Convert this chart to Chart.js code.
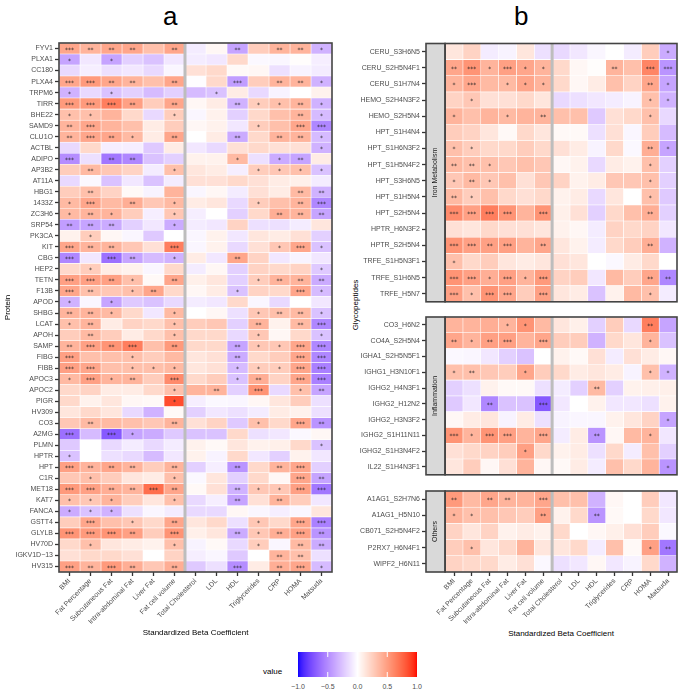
<!DOCTYPE html>
<html>
<head>
<meta charset="utf-8">
<script src="https://cdn.jsdelivr.net/npm/chart.js@4.4.1/dist/chart.umd.min.js"></script>
<style>
  body { margin: 0; width: 685px; height: 695px; position: relative; background: #fff; overflow: hidden;
         font-family: "Liberation Sans", Arial, sans-serif; }
  canvas { position: absolute; }
  .txt { position: absolute; white-space: nowrap; color: #000; }
</style>
</head>
<body>
<div class="txt" style="left:163px;top:1px;font-size:26px;">a</div>
<div class="txt" style="left:514px;top:1px;font-size:26px;">b</div>
<div class="txt" style="left:355px;top:305px;font-size:8px;transform:translate(-50%,-50%) rotate(-90deg);">Glycopeptides</div>
<div class="txt" style="left:561px;top:633px;font-size:8px;transform:translate(-50%,-50%);">Standardized Beta Coefficient</div>

<canvas id="protein" width="340" height="642" style="left:0;top:0;width:340px;height:642px"></canvas>
<canvas id="iron" width="345" height="308" style="left:340px;top:0;width:345px;height:308px"></canvas>
<canvas id="inflam" width="345" height="171" style="left:340px;top:310px;width:345px;height:171px"></canvas>
<canvas id="others" width="345" height="158" style="left:340px;top:484px;width:345px;height:158px"></canvas>

<div class="txt" style="left:263px;top:667px;font-size:8px;">value</div>
<canvas id="bar" width="119" height="25" style="left:298px;top:652px;width:119px;height:25px"></canvas>
<div id="barTicks"></div>

<script>
// Standardized beta coefficients; stars = significance level (0-3)
const measures = ['BMI', 'Fat Percentage', 'Subcutaneous Fat', 'Intra-abdominal Fat', 'Liver Fat', 'Fat cell volume',
  'Total Cholesterol', 'LDL', 'HDL', 'Triglycerides', 'CRP', 'HOMA', 'Matsuda'];

const proteins = ['FYV1', 'PLXA1', 'CC180', 'PLXA4', 'TRPM6', 'TIRR', 'BHE22', 'SAMD9', 'CLU1O', 'ACTBL', 'ADIPO', 'AP3B2',
  'AT11A', 'HBG1', '1433Z', 'ZC3H6', 'SRP54', 'PK3CA', 'KIT', 'CBG', 'HEP2', 'TETN', 'F13B', 'APOD', 'SHBG', 'LCAT',
  'APOH', 'SAMP', 'FIBG', 'FIBB', 'APOC3', 'APOC2', 'PIGR', 'HV309', 'CO3', 'A2MG', 'PLMN', 'HPTR', 'HPT', 'C1R',
  'MET18', 'KAT7', 'FANCA', 'GSTT4', 'GLYLB', 'HV70D', 'IGKV1D\u221213', 'HV315'];

const proteinBeta = [
  [0.46, 0.39, 0.46, 0.46, 0.33, 0.46, -0.08, 0.04, -0.39, 0.26, 0.39, 0.39, -0.33],
  [-0.39, -0.1, -0.39, -0.2, -0.26, -0.1, -0.08, -0.1, 0.2, -0.03, -0.04, 0.01, -0.07],
  [-0.16, -0.07, -0.13, -0.1, -0.16, -0.04, 0.16, 0.2, 0.03, 0.04, -0.13, -0.05, -0.08],
  [0.46, 0.52, 0.46, 0.39, 0.33, 0.46, -0.01, 0.2, -0.42, 0.26, 0.39, 0.39, -0.33],
  [-0.33, -0.16, -0.26, -0.2, -0.29, -0.2, -0.29, -0.26, 0.1, -0.16, -0.05, 0, 0.07],
  [0.52, 0.52, 0.65, 0.49, 0.26, 0.46, 0.04, 0.1, -0.33, 0.26, 0.33, 0.39, -0.33],
  [0.33, 0.33, 0.39, 0.2, -0.16, 0.26, -0.04, 0.07, -0.2, 0.2, 0.33, 0.39, -0.29],
  [0.39, 0.46, 0.39, 0.33, 0.1, 0.26, 0.04, 0.07, -0.1, 0.26, 0.33, 0.46, -0.52],
  [0.39, 0.46, 0.46, 0.36, 0.1, 0.46, 0, 0.1, -0.36, 0.2, 0.39, 0.39, -0.29],
  [-0.16, 0.2, -0.07, -0.07, -0.23, 0.1, -0.1, -0.16, 0.16, 0.2, 0.16, 0.16, -0.33],
  [-0.49, -0.13, -0.59, -0.52, -0.26, -0.2, 0.07, 0.07, 0.36, -0.13, -0.36, -0.39, 0.1],
  [0.26, 0.36, 0.29, 0.23, -0.08, 0.33, 0.13, 0.1, -0.07, 0.26, 0.29, 0.33, -0.26],
  [-0.16, -0.03, -0.26, -0.1, -0.26, -0.08, 0.16, 0.16, 0.2, 0.16, 0.1, 0.08, -0.08],
  [0.26, 0.33, 0.23, 0.03, -0.05, 0.39, -0.04, 0.04, -0.08, 0.16, 0.1, 0.36, -0.33],
  [0.36, 0.46, 0.36, 0.42, 0.29, 0.36, 0.1, 0.13, -0.16, 0.26, 0.33, 0.39, -0.52],
  [0.36, 0.39, 0.39, 0.26, -0.07, 0.29, -0.07, 0, -0.2, 0.2, 0.42, 0.39, -0.39],
  [-0.42, -0.39, -0.36, -0.2, -0.1, -0.36, -0.08, -0.1, 0.23, -0.13, -0.13, -0.08, 0.13],
  [0.07, 0.26, 0.04, -0.04, -0.23, 0, -0.04, 0.07, -0.1, 0.13, 0.1, 0.16, -0.2],
  [0.46, 0.39, 0.39, 0.29, 0.16, 0.65, -0.04, 0.07, -0.16, 0.16, 0.29, 0.46, -0.26],
  [-0.52, -0.1, -0.62, -0.39, -0.29, -0.33, 0.1, -0.1, 0.46, 0.23, -0.1, -0.05, -0.1],
  [0.2, 0.26, 0.1, 0.07, -0.04, 0.2, -0.08, 0.04, -0.2, 0.23, 0.2, 0.23, -0.23],
  [0.49, 0.49, 0.49, 0.33, 0.03, 0.46, 0.08, 0.13, -0.2, 0.26, 0.39, 0.39, -0.36],
  [0.46, 0.33, 0.29, 0.33, 0.46, 0.2, 0.04, 0.1, -0.26, 0.23, 0.2, 0.46, -0.29],
  [-0.33, -0.04, -0.39, -0.23, -0.26, -0.16, -0.08, -0.1, 0.2, -0.04, -0.16, 0, -0.1],
  [0.39, 0.39, 0.36, 0.2, -0.1, 0.36, 0, 0.04, -0.13, 0.29, 0.33, 0.36, -0.26],
  [0.33, 0.39, 0.1, 0.23, 0.2, 0.33, 0.26, 0.29, -0.2, 0.39, 0.07, 0.36, -0.52],
  [0.26, 0.36, 0.26, 0.1, 0.2, 0.33, 0.2, 0.2, -0.16, 0.29, 0.04, 0.2, -0.26],
  [0.39, 0.49, 0.55, 0.65, 0.33, 0.52, 0.2, 0.2, -0.39, 0.29, 0.29, 0.46, -0.52],
  [0.49, 0.33, 0.33, 0.33, 0.26, 0.36, 0.13, 0.16, -0.36, 0.2, 0.26, 0.46, -0.52],
  [0.49, 0.46, 0.33, 0.33, 0.33, 0.36, 0.13, 0.16, -0.29, 0.26, 0.26, 0.46, -0.55],
  [0.36, 0.49, 0.39, 0.39, 0.26, 0.59, 0.2, 0.26, -0.26, 0.42, 0.23, 0.46, -0.55],
  [0.2, 0.23, 0.1, 0.1, 0.2, 0.33, 0.39, 0.39, -0.2, 0.55, -0.16, 0.33, -0.39],
  [0.2, 0.07, 0.13, 0.04, 0.03, 0.85, -0.07, -0.03, -0.04, 0.04, 0.13, 0.26, -0.13],
  [0.13, 0.2, 0.13, -0.16, -0.33, 0.03, -0.2, -0.1, -0.13, -0.08, 0.1, 0.07, -0.13],
  [0.29, 0.36, 0.36, 0.33, 0.29, 0.39, 0.16, 0.23, -0.23, 0.33, 0.2, 0.46, -0.46],
  [-0.62, -0.29, -0.72, -0.39, -0.36, -0.23, -0.26, -0.26, 0.2, -0.13, -0.1, -0.03, 0.04],
  [-0.23, 0, -0.16, -0.08, -0.16, -0.08, 0.07, 0.03, 0.13, 0.07, 0.08, 0.2, -0.26],
  [-0.26, 0, -0.13, -0.16, -0.29, -0.1, 0.07, -0.05, 0.2, -0.1, -0.2, 0.07, -0.1],
  [0.49, 0.39, 0.46, 0.39, 0.26, 0.39, -0.2, -0.07, -0.46, 0.2, 0.39, 0.46, -0.2],
  [0.29, 0.33, 0.26, 0.13, 0.1, 0.33, -0.03, 0.13, -0.2, 0.2, 0.04, 0.46, -0.39],
  [0.52, 0.49, 0.42, 0.39, 0.72, 0.46, 0.03, 0.16, -0.33, 0.29, 0.29, 0.49, -0.59],
  [0.33, 0.29, 0.39, 0.26, 0.13, 0.33, -0.16, -0.07, -0.39, 0.16, 0.39, 0.26, -0.1],
  [-0.36, -0.26, -0.33, -0.13, -0.04, -0.08, -0.16, -0.16, 0.04, -0.04, -0.07, -0.04, 0.13],
  [0.26, 0.46, 0.33, 0.29, 0.2, 0.46, 0.13, 0.2, -0.13, 0.29, 0.2, 0.46, -0.55],
  [0.55, 0.52, 0.55, 0.49, 0.26, 0.55, 0.08, 0.13, -0.36, 0.29, 0.42, 0.49, -0.46],
  [0.2, 0.33, 0.13, 0.1, 0.07, 0.33, -0.05, 0.03, -0.16, 0.26, -0.04, 0.36, -0.36],
  [0.16, 0.2, 0.2, 0.16, 0, 0.23, -0.07, -0.04, -0.23, 0, 0.39, 0.33, -0.13],
  [0.49, 0.39, 0.52, 0.42, 0.29, 0.42, -0.23, -0.13, -0.49, 0.1, 0.42, 0.46, -0.29]
];

const proteinStars = ['3222020020221', '1010000000000', '0000000000000', '3322020030221', '1010000100000',
  '3332020021121', '1100010000021', '2300000001033', '2321020020221', '0000000000001', '3022000010120',
  '0200010001111', '0000000000000', '0200000000022', '1302010001023', '1210010000222', '2220010000000',
  '0100000000000', '3220030000131', '3032010020000', '0100000000001', '3321020001222', '3201200010031',
  '1010000000000', '2210010001221', '1200010002023', '0200010001001', '2323020021133', '3001000020033',
  '3301110011133', '1312030012033', '0000010203012', '0000010000000', '0000000000000', '0200020001032',
  '3031000000000', '0000000000001', '1000000000000', '3222020020230', '0100010000032', '3322320021133',
  '1110010020200', '1110000000000', '0301020001033', '3332030021232', '0100010001022', '0000000000220',
  '3232020030231'];

const ironRows = ['CERU_S3H6N5', 'CERU_S2H5N4F1', 'CERU_S1H7N4', 'HEMO_S2H4N3F2', 'HEMO_S2H5N4', 'HPT_S1H4N4',
  'HPT_S1H6N3F2', 'HPT_S1H5N4F2', 'HPT_S3H6N5', 'HPT_S1H5N4', 'HPT_S2H5N4', 'HPTR_H6N3F2', 'HPTR_S2H5N4',
  'TRFE_S1H5N3F1', 'TRFE_S1H6N5', 'TRFE_H5N7'];
const ironBeta = [
  [0.13, 0.23, -0.08, -0.05, 0.13, -0.13, -0.16, -0.1, -0.04, 0, -0.08, 0.26, -0.36],
  [0.46, 0.55, 0.39, 0.49, 0.46, 0.39, 0.2, 0.04, 0.01, 0.39, 0.33, 0.62, -0.46],
  [0.39, 0.46, 0.36, 0.36, 0.46, 0.39, 0.2, 0.04, 0.1, 0.33, 0.23, 0.46, -0.39],
  [0.23, 0.29, 0.16, 0.16, 0.2, 0.13, -0.16, -0.13, -0.1, -0.08, -0.05, 0.33, -0.33],
  [0.39, 0.33, 0.39, 0.36, 0.39, 0.39, 0.33, 0.33, -0.23, 0.16, 0.2, 0.33, -0.16],
  [0.26, 0.23, 0.13, 0.03, 0.2, 0.13, 0.03, 0.03, -0.13, 0.16, -0.04, 0.26, -0.29],
  [0.33, 0.26, 0.2, 0.2, 0.26, 0.2, 0.16, 0.1, -0.05, 0.2, -0.03, 0.42, -0.39],
  [0.36, 0.33, 0.33, 0.29, 0.33, 0.29, 0.04, 0.07, -0.16, 0.1, 0.07, 0.33, -0.2],
  [0.29, 0.36, 0.29, 0.33, 0.16, 0.29, 0.23, 0.07, 0.1, 0.29, 0.29, 0.33, -0.2],
  [0.36, 0.26, 0.33, 0.2, 0.16, 0.2, 0.07, 0.1, -0.16, 0.13, 0, 0.33, -0.23],
  [0.59, 0.49, 0.65, 0.55, 0.39, 0.55, 0.08, 0.16, -0.2, 0.2, 0.33, 0.42, -0.2],
  [0.16, 0.13, 0.2, 0.16, 0.16, 0.13, 0.07, 0.04, -0.08, 0.23, 0.2, 0.23, -0.1],
  [0.55, 0.49, 0.49, 0.49, 0.39, 0.46, 0.13, 0.07, -0.08, 0.2, 0.26, 0.42, -0.33],
  [0.33, 0.2, 0.26, 0.13, 0.1, 0.13, 0.16, 0.13, 0, -0.03, 0.1, 0.2, 0],
  [0.55, 0.49, 0.42, 0.49, 0.39, 0.52, 0.23, 0.26, -0.1, 0.36, 0.26, 0.46, -0.52],
  [0.49, 0.33, 0.55, 0.46, 0.26, 0.49, 0.13, 0.1, -0.26, 0.07, 0.36, 0.33, -0.08]
];
const ironStars = ['0000000000001', '2313110002033', '1301110000021', '0100000000011', '1001020000010',
  '0000000000000', '1100000000021', '2210000000010', '1210000000010', '2100000000010', '3333030000020',
  '0000000000000', '3323020000020', '1000000000000', '3313130000022', '3133030000010'];

const inflamRows = ['CO3_H6N2', 'CO4A_S2H5N4', 'IGHA1_S2H5N5F1', 'IGHG1_H3N10F1', 'IGHG2_H4N3F1', 'IGHG2_H12N2',
  'IGHG2_H3N3F2', 'IGHG2_S1H11N11', 'IGHG2_S1H3N4F2', 'IL22_S1H4N3F1'];
const inflamBeta = [
  [0.39, 0.39, 0.42, 0.39, 0.55, 0.36, 0.13, 0.08, -0.2, 0.26, -0.16, 0.65, -0.39],
  [0.46, 0.39, 0.49, 0.49, 0.39, 0.46, 0.26, 0.26, -0.33, 0.2, 0.13, 0.39, -0.26],
  [-0.03, -0.04, -0.1, -0.2, -0.26, 0, 0.07, 0.03, 0.16, -0.08, 0.16, 0.1, 0.04],
  [0.33, 0.33, 0.29, 0.26, 0.46, 0.26, 0.2, 0.1, 0.13, 0.1, -0.05, 0.33, -0.33],
  [-0.2, -0.13, 0.07, 0.03, 0.03, -0.13, -0.08, -0.2, 0.36, -0.2, 0.07, 0.08, 0.08],
  [-0.23, -0.1, -0.52, -0.26, -0.26, -0.72, -0.1, 0, 0.07, -0.1, -0.1, -0.13, 0.07],
  [0.04, 0.1, 0.13, -0.05, 0.1, -0.13, -0.05, -0.04, -0.04, 0.07, 0.13, 0.23, -0.39],
  [0.55, 0.39, 0.55, 0.49, 0.39, 0.46, -0.08, 0.1, -0.46, 0.04, 0.36, 0.39, -0.1],
  [0.16, 0.2, 0.23, 0.26, 0.49, 0.2, 0.07, 0.1, -0.13, 0.2, -0.08, 0.33, -0.2],
  [0.13, 0.26, 0.04, 0.16, 0.39, 0.04, 0.03, 0.1, -0.08, 0.33, 0.2, 0.39, -0.46]
];
const inflamStars = ['0001100000020', '2123030000010', '0000000000000', '1200100000011', '0000000020000',
  '0020030000000', '0000000000001', '3133030020010', '0000100000000', '0000000000001'];

const otherRows = ['A1AG1_S2H7N6', 'A1AG1_H5N10', 'CB071_S2H5N4F2', 'P2RX7_H6N4F1', 'WIPF2_H6N11'];
const otherBeta = [
  [0.52, 0.36, 0.46, 0.39, 0.39, 0.46, 0.33, 0.33, -0.33, 0.04, 0, 0.26, -0.1],
  [0.39, 0.33, 0.33, 0.29, 0.26, 0.49, 0.07, 0.2, -0.46, 0.03, 0, 0.2, -0.1],
  [0.23, 0.13, 0.23, 0.07, 0.1, 0.07, 0.2, 0, 0.04, 0.08, 0.16, 0.26, -0.03],
  [0.26, 0.33, 0.13, 0.2, 0.39, 0.13, 0.13, 0.2, -0.08, 0.33, 0.03, 0.49, -0.59],
  [0.23, 0.2, 0.2, 0.1, 0.16, -0.03, -0.13, -0.1, 0.04, -0.1, -0.05, 0.2, -0.33]
];
const otherStars = ['2022030000000', '1100020020000', '0000000000000', '0100000000012', '0000000000000'];

const legendTicks = [-1.0, -0.5, 0.0, 0.5, 1.0];

// diverging blue - white - red fill, interpolated in CIELAB like ggplot's gradient2
function toLab(rgb) {
  const lin = c => { c /= 255; return c <= 0.04045 ? c / 12.92 : Math.pow((c + 0.055) / 1.055, 2.4); };
  const [r, g, b] = rgb.map(lin);
  const x = (0.4124 * r + 0.3576 * g + 0.1805 * b) / 0.95047;
  const y = 0.2126 * r + 0.7152 * g + 0.0722 * b;
  const z = (0.0193 * r + 0.1192 * g + 0.9505 * b) / 1.08883;
  const f = t => t > 0.008856 ? Math.cbrt(t) : 7.787 * t + 16 / 116;
  return [116 * f(y) - 16, 500 * (f(x) - f(y)), 200 * (f(y) - f(z))];
}
function fromLab([L, a, bb]) {
  const fy = (L + 16) / 116, fx = fy + a / 500, fz = fy - bb / 200;
  const inv = t => t * t * t > 0.008856 ? t * t * t : (t - 16 / 116) / 7.787;
  const x = inv(fx) * 0.95047, y = inv(fy), z = inv(fz) * 1.08883;
  const rgb = [3.2406 * x - 1.5372 * y - 0.4986 * z, -0.9689 * x + 1.8758 * y + 0.0415 * z, 0.0557 * x - 0.2040 * y + 1.0570 * z];
  return rgb.map(c => {
    c = c <= 0.0031308 ? 12.92 * c : 1.055 * Math.pow(c, 1 / 2.4) - 0.055;
    return Math.round(Math.max(0, Math.min(1, c)) * 255);
  });
}
const labWhite = toLab([255, 255, 255]), labBlue = toLab([0, 0, 255]), labRed = toLab([255, 0, 0]);
function fillFor(v) {
  const t = Math.min(1, Math.abs(v));
  const end = v < 0 ? labBlue : labRed;
  const c = fromLab(labWhite.map((w, k) => w + (end[k] - w) * t));
  return `rgb(${c[0]},${c[1]},${c[2]})`;
}

const tickFont = { family: '"Liberation Sans", Arial, sans-serif', size: 7 };

const panelDecor = {
  id: 'panelDecor',
  afterDatasetsDraw(chart, args, opts) {
    const { ctx, chartArea: a, scales: { x } } = chart;
    ctx.save();
    // significance stars
    ctx.fillStyle = '#222';
    ctx.font = '6px "DejaVu Sans"';
    ctx.textAlign = 'center';
    ctx.textBaseline = 'middle';
    chart.data.datasets.forEach((ds, i) => {
      chart.getDatasetMeta(i).data.forEach((bar, j) => {
        const s = ds.stars[j];
        if (s) ctx.fillText(s, (bar.x + bar.base) / 2, bar.y + 1.5);
      });
    });
    const left = x.getPixelForValue(0);
    // grey divider between body composition and blood markers
    ctx.strokeStyle = '#bdbdbd';
    ctx.lineWidth = 3;
    const xd = x.getPixelForValue(6);
    ctx.beginPath(); ctx.moveTo(xd, a.top); ctx.lineTo(xd, a.bottom); ctx.stroke();
    // facet strip
    ctx.strokeStyle = '#444';
    ctx.lineWidth = 1.6;
    if (opts.strip) {
      ctx.fillStyle = '#d9d9d9';
      ctx.fillRect(a.left, a.top, left - a.left, a.bottom - a.top);
      ctx.strokeRect(a.left, a.top, left - a.left, a.bottom - a.top);
      ctx.fillStyle = '#1a1a1a';
      ctx.font = '7px "Liberation Sans", Arial, sans-serif';
      ctx.translate((a.left + left) / 2, (a.top + a.bottom) / 2);
      ctx.rotate(-Math.PI / 2);
      ctx.fillText(opts.strip, 0, 0);
      ctx.setTransform(chart.currentDevicePixelRatio, 0, 0, chart.currentDevicePixelRatio, 0, 0);
    }
    ctx.strokeRect(left, a.top, a.right - left, a.bottom - a.top);
    ctx.restore();
  }
};

function heatmap(id, rows, beta, stars, cfg) {
  const datasets = measures.map((m, i) => ({
    label: m,
    data: rows.map(() => 1),
    backgroundColor: rows.map((r, j) => fillFor(beta[j][i])),
    borderColor: '#ffffff',
    borderWidth: 0.6,
    borderSkipped: false,
    barPercentage: 1,
    categoryPercentage: 1,
    stars: rows.map((r, j) => '*'.repeat(+stars[j][i]))
  }));
  return new Chart(document.getElementById(id), {
    type: 'bar',
    data: { labels: rows, datasets },
    plugins: [panelDecor],
    options: {
      indexAxis: 'y',
      responsive: false,
      animation: false,
      layout: { padding: { top: cfg.top, right: 8, bottom: 2, left: 0 } },
      plugins: { legend: { display: false }, tooltip: { enabled: false }, panelDecor: { strip: cfg.strip } },
      scales: {
        x: {
          type: 'linear', stacked: true, min: cfg.xmin, max: 13, display: cfg.showX,
          afterBuildTicks: s => { s.ticks = measures.map((m, i) => ({ value: i + 0.5 })); },
          afterFit: s => { s.height = cfg.xHeight; },
          ticks: { autoSkip: false, minRotation: 45, maxRotation: 45, padding: 1, font: tickFont, color: '#4d4d4d',
                   callback: (v, i) => measures[i] },
          grid: { drawOnChartArea: false, color: '#333', tickLength: 4, tickWidth: 1.3 },
          border: { display: false },
          title: { display: !!cfg.xTitle, text: cfg.xTitle, color: '#000', padding: { top: 2, bottom: 2 },
                   font: { family: '"Liberation Sans", Arial, sans-serif', size: 8 } }
        },
        y: {
          type: 'category', stacked: true,
          afterFit: s => { s.width = cfg.yWidth; },
          ticks: { autoSkip: false, padding: 2, font: tickFont, color: '#4d4d4d' },
          grid: { offset: false, drawOnChartArea: false, color: '#333', tickLength: 4, tickWidth: 1.3 },
          border: { display: false },
          title: { display: !!cfg.yTitle, text: cfg.yTitle, color: '#000', padding: { top: 3, bottom: 0 },
                   font: { family: '"Liberation Sans", Arial, sans-serif', size: 8 } }
        }
      }
    }
  });
}

heatmap('protein', proteins, proteinBeta, proteinStars,
  { top: 43, xmin: 0, showX: true, xHeight: 68, yWidth: 59, xTitle: 'Standardized Beta Coefficient', yTitle: 'Protein' });
heatmap('iron', ironRows, ironBeta, ironStars,
  { top: 43.5, xmin: -1.07, showX: false, xHeight: 0, yWidth: 86, strip: 'Iron Metabolism' });
heatmap('inflam', inflamRows, inflamBeta, inflamStars,
  { top: 7, xmin: -1.07, showX: false, xHeight: 0, yWidth: 86, strip: 'Inflammation' });
heatmap('others', otherRows, otherBeta, otherStars,
  { top: 7, xmin: -1.07, showX: true, xHeight: 68, yWidth: 86, strip: 'Others' });

// colour bar legend
(function () {
  const cv = document.getElementById('bar');
  const ctx = cv.getContext('2d');
  const w = cv.width, h = cv.height;
  for (let px = 0; px < w; px++) {
    ctx.fillStyle = fillFor(-1 + 2 * (px + 0.5) / w);
    ctx.fillRect(px, 0, 1, h);
  }
  ctx.strokeStyle = '#fff';
  ctx.lineWidth = 1;
  const holder = document.getElementById('barTicks');
  legendTicks.forEach(v => {
    const px = (v + 1) / 2 * w;
    if (v > -1 && v < 1) {
      ctx.beginPath(); ctx.moveTo(px, 0); ctx.lineTo(px, 5); ctx.moveTo(px, h - 5); ctx.lineTo(px, h); ctx.stroke();
    }
    const d = document.createElement('div');
    d.className = 'txt';
    d.style.cssText = `left:${298 + px}px;top:683px;font-size:7px;color:#4d4d4d;transform:translateX(-50%)`;
    d.textContent = v.toFixed(1).replace('-', '\u2212');
    holder.appendChild(d);
  });
})();
</script>
</body>
</html>
